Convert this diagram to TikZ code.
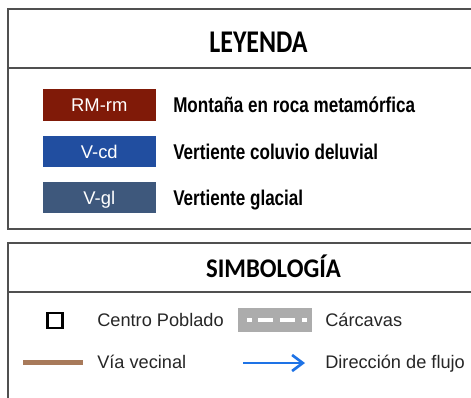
\documentclass[tikz,border=0pt]{standalone}
\usepackage{fontspec}
\setmainfont{Liberation Sans}
\newfontfamily\titlefont{Carlito}
\usepackage{graphicx}
\usepackage{tikz}
\usetikzlibrary{calc,arrows.meta}
\usepackage{xcolor}
\definecolor{framegray}{RGB}{80,80,80}
\definecolor{rmred}{RGB}{128,26,8}
\definecolor{vcdblue}{RGB}{33,78,160}
\definecolor{vglblue}{RGB}{62,88,124}
\definecolor{viabrown}{RGB}{168,122,90}
\definecolor{flujoblue}{RGB}{30,115,230}
\definecolor{carcgray}{RGB}{172,172,172}
\newcommand{\unitrow}[5]{\node[swatch,fill=#3] (#1) at (99.3,#2) {#4};
    \node[unitlbl] (#1-lbl) at (173,#2+7.5) {\scalebox{0.8}[1]{#5}};}
\newcommand{\legframe}[3]{\draw[frame] (8,#1) rectangle (490,#3);
    \draw[frame] (8,#2) -- (490,#2);}

\begin{document}
\begin{tikzpicture}[x=0.75pt,y=-0.75pt,
    frame/.style={draw=framegray,line width=1.3pt},
    swatch/.style={minimum width=84.4pt,minimum height=23.6pt,inner sep=0pt,text=white,
        font=\fontsize{13.8}{16}\selectfont,text height=9.9pt,text depth=0pt},
    unitlbl/.style={inner sep=0pt,anchor=base west,font=\fontsize{16}{18}\selectfont\bfseries},
    symlbl/.style={inner sep=0pt,anchor=base west,text=black!85,font=\fontsize{13.65}{16}\selectfont},
    headlbl/.style={inner sep=0pt,anchor=base}]

    \useasboundingbox (0,0) rectangle (471,397);
    \clip (0,0) rectangle (471,397);

    % leyenda
    \legframe{9}{68}{229}
    \node[headlbl,font=\titlefont\fontsize{23.7}{28}\selectfont\bfseries] (leyenda) at (258.5,52) {\scalebox{0.82}[1]{LEYENDA}};

    \unitrow{rm}{105}{rmred}{RM-rm}{Montaña en roca metamórfica}
    \unitrow{vcd}{151.5}{vcdblue}{V-cd}{Vertiente coluvio deluvial}
    \unitrow{vgl}{197.5}{vglblue}{V-gl}{Vertiente glacial}

    % simbologia
    \legframe{243}{292}{410}
    \node[headlbl,font=\titlefont\fontsize{20.2}{24}\selectfont\bfseries] (simbologia) at (273.5,277) {\scalebox{0.92}[1]{SIMBOLOGÍA}};

    \node[draw=black,line width=1.8pt,minimum size=11pt,inner sep=0pt] (poblado) at (55,320.5) {};
    \node[symlbl] (poblado-lbl) at (97,326) {Centro Poblado};

    \node[fill=carcgray,minimum width=55.5pt,minimum height=18pt,inner sep=0pt] (carc) at (275,320) {};
    \foreach \a/\b in {247/252,258/273,280/295,302/307}
        \draw[white,line width=3pt] (\a,320) -- (\b,320);
    \node[symlbl] (carc-lbl) at (325,326) {Cárcavas};

    \coordinate (via-a) at (23,362);
    \coordinate (via-b) at (83,362);
    \draw[viabrown,line width=3.75pt] (via-a) -- (via-b);
    \node[symlbl] (via-lbl) at (97,368.5) {Vía vecinal};

    \coordinate (flujo-a) at (243,363);
    \coordinate (flujo-b) at (305,363);
    \draw[flujoblue,line width=2pt,-{Straight Barb[length=8pt,width=12pt]}] (flujo-a) -- (flujo-b);
    \node[symlbl] (flujo-lbl) at (325,368.5) {Dirección de flujo};
\end{tikzpicture}
\end{document}
